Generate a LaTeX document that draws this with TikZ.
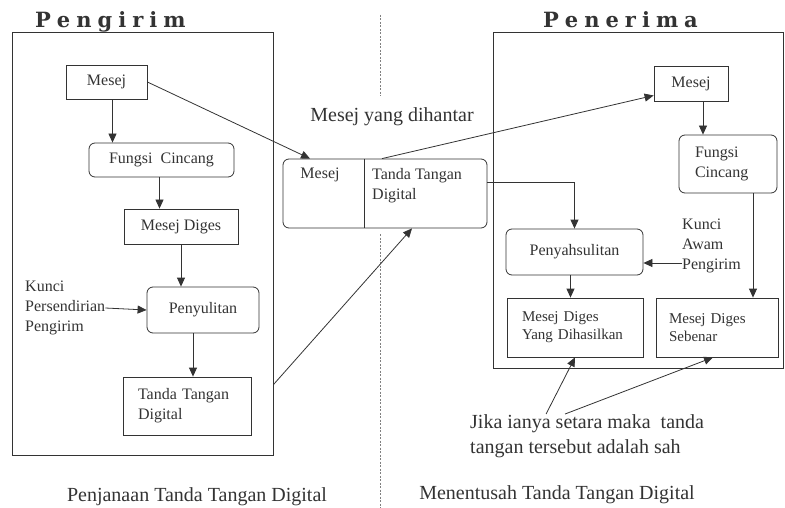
\documentclass[tikz,border=0pt]{standalone}
\usepackage{fontspec}
\setmainfont{Liberation Serif}
\newfontfamily\titlefont{DejaVu Serif}
\usetikzlibrary{arrows.meta,positioning,calc}
% spread the letters of a title
\newcommand\gapword[1]{\gapwordi#1\relax}
\def\gapwordi#1{\ifx#1\relax\else#1\kern6pt\expandafter\gapwordi\fi}

\begin{document}
\begin{tikzpicture}[
		x=1pt,y=-1pt,
		every node/.style={text=black!80},
		box/.style={draw=black!80,line width=0.8pt,inner sep=0pt,font=\fontsize{16}{19}\selectfont},
		rbox/.style={box,rounded corners=6pt},
		frame/.style={draw=black!80,line width=0.9pt,inner sep=0pt},
		word/.style={inner sep=0pt,font=\fontsize{16}{20}\selectfont,align=left},
		big/.style={inner sep=0pt,font=\fontsize{20}{25}\selectfont,align=left},
		title/.style={inner sep=0pt,font=\titlefont\bfseries\fontsize{21}{25}\selectfont},
		arr/.style={draw=black!80,line width=0.8pt,-{Triangle[length=9pt,width=8pt]}}
	]
	\useasboundingbox (0,0) rectangle (785,508) ;

	% dividing line
	\draw [black!50,line width=0.7pt,dash pattern=on 2pt off 1.5pt] (380,15) -- (380,96) ;
	\draw [black!50,line width=0.7pt,dash pattern=on 2pt off 1.5pt] (380,234) -- (380,508) ;

	% sender
	\node [frame,minimum width=261,minimum height=423] (send) at (142.5,243.5) {} ;
	\node [title,anchor=base west] (stitle) at (35,28) {\gapword{Pengirim}} ;
	\node [box,minimum width=81,minimum height=34]  (smsg) at (106.5,82)  {Mesej} ;
	\node [rbox,minimum width=145,minimum height=34] (sfun) at (161.5,160) {Fungsi\ \ Cincang} ;
	\node [box,minimum width=114,minimum height=35]  (sdig) at (181,226.5) {Mesej Diges} ;
	\node [rbox,minimum width=112,minimum height=46] (senc) at (203,310)  {Penyulitan} ;
	\node [box,minimum width=128,minimum height=58,align=left,text width=98,inner xsep=15pt,
		font=\fontsize{16}{20}\selectfont] (ssig) at (187,406) {Tanda Tangan\\Digital} ;
	\node [word,anchor=west] (skey) at (25,308) {Kunci\\Persendirian\\Pengirim} ;
	\node [big] (scap) at (197,497) {Penjanaan Tanda Tangan Digital} ;

	\draw [arr] ([xshift=6pt]smsg.south) -- ([xshift=6pt]smsg.south |- sfun.north) ;
	\draw [arr] ([xshift=-2pt]sfun.south) -- ([xshift=-2pt]sfun.south |- sdig.north) ;
	\draw [arr] (sdig.south) -- (sdig.south |- senc.north) ;
	\draw [arr] ([xshift=-10pt]senc.south) -- ([xshift=-10pt]senc.south |- ssig.north) ;
	\draw [arr] (skey.east) -- (senc.west) ;

	% message sent
	\node [rbox,minimum width=204,minimum height=69] (mid) at (385,193.5) {} ;
	\node [word,anchor=north] (midA) at (320,168) {Mesej} ;
	\node [word,anchor=north west] (midB) at (372,168) {Tanda Tangan\\Digital} ;
	\draw [draw=black!80,line width=0.8pt] (mid.north -| midA.east) ++(25,0) coordinate (cut)
		-- (cut |- mid.south) ;
	\node [big] (sent) at (392,117) {Mesej yang dihantar} ;

	\draw [arr] (smsg.east) -- ([xshift=-75pt]mid.north) ;
	\draw [arr] ($(send.east |- ssig.north)+(0,8)$) -- ([xshift=27pt]mid.south) ;

	% receiver
	\node [frame,minimum width=290,minimum height=336] (recv) at (638,200) {} ;
	\node [title,anchor=base west] (rtitle) at (543,28) {\gapword{Penerima}} ;
	\node [box,minimum width=74,minimum height=35]   (rmsg) at (691,83.5)  {Mesej} ;
	\node [rbox,minimum width=98,minimum height=58,align=left,text width=66,inner xsep=16pt,
		font=\fontsize{16}{20}\selectfont] (rfun) at (728,164) {Fungsi\\Cincang} ;
	\node [rbox,minimum width=137,minimum height=46] (rdec) at (574.5,252) {Penyahsulitan} ;
	\node [box,minimum width=136,minimum height=59,align=left,text width=106,inner xsep=15pt,
		font=\fontsize{15}{18}\selectfont] (rgen) at (575,327.5) {Mesej Diges\\Yang Dihasilkan} ;
	\node [box,minimum width=122,minimum height=59,align=left,text width=96,inner xsep=13pt,
		font=\fontsize{15}{18}\selectfont] (rsbn) at (717,327.5) {Mesej Diges\\Sebenar} ;
	\node [word,anchor=west] (rkey) at (682,246) {Kunci\\Awam\\Pengirim} ;
	\node [big,anchor=north west] (note) at (470,414) {Jika ianya setara maka\ \ tanda\\tangan tersebut adalah sah} ;
	\node [big] (rcap) at (557,495) {Menentusah Tanda Tangan Digital} ;

	\draw [arr] ([xshift=-3pt]mid.north) -- ([yshift=-12pt]rmsg.west) ;
	\draw [arr] ([yshift=11pt]mid.east) -| (rdec.north) ;
	\draw [arr] ([xshift=12pt]rmsg.south) -- ([xshift=12pt]rmsg.south |- rfun.north) ;
	\draw [arr] ([xshift=25pt]rfun.south) -- ([xshift=25pt]rfun.south |- rsbn.north) ;
	\draw [arr] ([yshift=-17pt]rkey.west) -- ([yshift=-17pt]rkey.west -| rdec.east) ;
	\draw [arr] ([xshift=-4pt]rdec.south) -- ([xshift=-4pt]rdec.south |- rgen.north) ;
	\draw [arr] ([xshift=-41pt]note.north) -- (rgen.south) ;
	\draw [arr] ([xshift=-22pt]note.north) -- ([xshift=-4pt]rsbn.south) ;
\end{tikzpicture}
\end{document}
